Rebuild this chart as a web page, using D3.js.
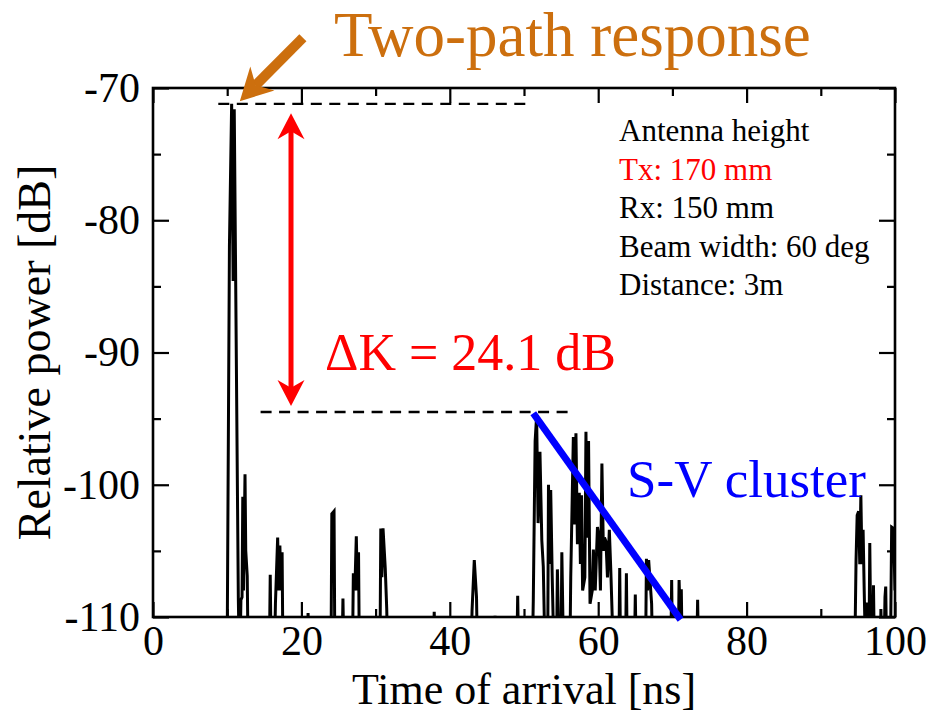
<!DOCTYPE html>
<html><head><meta charset="utf-8">
<script src="https://cdn.jsdelivr.net/npm/d3@7"></script>
<style>
html,body{margin:0;padding:0;background:#fff;}
svg{display:block;font-family:"Liberation Serif","Times New Roman",serif;}
</style></head>
<body>
<svg id="chart" width="930" height="719"></svg>
<script>
// ---- data ----
const xDomain = [0, 100];
const yDomain = [-110, -70];
const xMajorTicks = [0, 20, 40, 60, 80, 100];
const xMinorTicks = [10, 30, 50, 70, 90];
const yMajorTicks = [-110, -100, -90, -80, -70];
const yMinorTicks = [-105, -95, -85, -75];

const timeNs = [0,9.9,10.0,10.3,10.6,10.8,10.95,11.5,11.6,11.75,11.85,12.0,12.1,12.2,12.4,12.5,12.7,12.8,
 15.7,15.8,15.9,16.4,16.5,16.8,16.95,17.1,17.25,17.4,17.5,20.8,20.9,21.0,24.0,24.1,24.4,24.5,25.5,25.6,25.7,
 26.9,27.0,27.2,27.4,27.55,27.7,27.8,30.6,30.7,30.85,31.0,31.3,31.5,31.6,37.8,37.9,38.0,42.9,43.0,43.3,43.6,43.7,
 46.0,46.1,46.2,49.05,49.15,49.25,51.15,51.25,51.5,51.7,51.9,52.15,52.4,52.6,52.8,53.2,53.3,53.45,53.6,53.8,54.0,
 54.4,54.5,54.7,55.0,55.1,55.3,56.2,56.3,56.65,56.8,57.0,57.2,57.45,57.6,57.75,57.9,58.2,58.35,58.5,58.7,58.9,
 59.2,59.35,59.6,59.9,60.1,60.3,60.5,60.7,60.85,61.05,61.25,61.5,61.7,62.0,62.8,62.9,63.0,63.7,63.8,63.9,
 64.9,65.0,65.1,66.4,66.5,66.65,66.8,67.2,67.3,69.8,69.9,70.0,70.8,70.9,71.05,71.2,71.3,73.3,73.4,73.5,
 94.6,94.75,94.9,95.1,95.25,95.4,95.55,95.7,95.85,96.0,96.15,96.2,96.3,96.5,96.6,96.75,97.0,97.1,97.2,
 98.05,98.1,98.2,98.55,98.65,98.75,98.85,99.4,99.55,99.8,100];
const powerDb = [-112,-112,-112,-82,-71.2,-84.6,-71.6,-108.6,-112,-112,-108.7,-108.5,-100.9,-108,-99.2,-105,-106.9,-112,
 -112,-106.8,-112,-112,-109,-104.0,-108,-104.6,-108,-105.1,-112,-112,-109.7,-112,-112,-102.2,-102.0,-112,-112,-108.6,-112,
 -112,-106.7,-108,-103.9,-108,-105.1,-112,-112,-103.3,-107,-103.3,-106.3,-109.4,-112,-112,-109.6,-112,-112,-109.5,-105.7,-108.5,-112,
 -112,-109.9,-112,-112,-108.4,-112,-112,-108.8,-96.7,-94.8,-102.9,-97.5,-104.2,-106.2,-112,-112,-100.0,-106,-100.4,-106.9,-112,
 -112,-106.4,-112,-112,-105.1,-112,-112,-107,-96.4,-103,-96.1,-104.5,-100.6,-106,-100.8,-108,-107,-96.0,-104,-96.7,-109,
 -108,-104.9,-108,-103.2,-103.9,-108,-98.4,-105,-104,-104.3,-107,-103.4,-106.5,-112,-112,-106.3,-112,-112,-106.7,-112,
 -112,-108.3,-112,-112,-105.6,-108,-105.7,-109,-112,-112,-107.2,-112,-112,-107.2,-110,-107.9,-112,-112,-108.7,-112,
 -112,-105.7,-102.3,-102.0,-106,-100.8,-106,-103.4,-108,-112,-112,-108.9,-112,-112,-104.4,-112,-112,-107.6,-112,
 -112,-109.4,-112,-112,-108.5,-107.7,-112,-112,-103.2,-103.3,-108];

// annotations (data units)
const peakLevel = {x0: 8.8, x1: 50.4, y: -71.2};
const clusterLevel = {x0: 14.5, x1: 56.4, y: -94.5};
const deltaArrow = {x: 18.6, yTop: -71.9, yBottom: -94.05};
const svLine = {x0: 51.25, y0: -94.6, x1: 71.1, y1: -110.2};
const orangeArrow = {x0: 20.2, y0: -66.2, x1: 11.7, y1: -71.0};
const infoLines = ["Antenna height", "Tx: 170 mm", "Rx: 150 mm", "Beam width: 60 deg", "Distance: 3m"];
const infoColors = ["#000", "#ff0000", "#000", "#000", "#000"];

// ---- layout ----
const svg = d3.select("#chart");
const L = 153, R = 895, T = 88, B = 617;
const x = d3.scaleLinear().domain(xDomain).range([L, R]);
const y = d3.scaleLinear().domain(yDomain).range([B, T]);

svg.append("defs").append("clipPath").attr("id","clip")
  .append("rect").attr("x",L).attr("y",T).attr("width",R-L).attr("height",B-T);

// data line
const pts = timeNs.map((t,i)=>[t,powerDb[i]]);
svg.append("path").datum(pts)
  .attr("clip-path","url(#clip)")
  .attr("fill","none").attr("stroke","#000").attr("stroke-width",3)
  .attr("stroke-linejoin","miter")
  .attr("d", d3.line().x(d=>x(d[0])).y(d=>y(d[1])));

// axes
function styleAxis(g, showText){
  g.select(".domain").remove();
  g.selectAll(".tick line").attr("stroke","#000").attr("stroke-width",2.2);
  if(!showText) g.selectAll(".tick text").remove();
  else g.selectAll(".tick text").attr("font-size",42).attr("fill","#000")
        .attr("font-family","Liberation Serif, Times New Roman, serif");
}
const fmt = d => String(d);
svg.append("g").attr("transform",`translate(0,${B})`)
  .call(d3.axisBottom(x).tickValues(xMajorTicks).tickSize(-15).tickPadding(8).tickFormat(fmt))
  .call(g=>styleAxis(g,true));
svg.append("g").attr("transform",`translate(0,${B})`)
  .call(d3.axisBottom(x).tickValues(xMinorTicks).tickSize(-8)).call(g=>styleAxis(g,false));
svg.append("g").attr("transform",`translate(0,${T})`)
  .call(d3.axisTop(x).tickValues(xMajorTicks).tickSize(-15)).call(g=>styleAxis(g,false));
svg.append("g").attr("transform",`translate(0,${T})`)
  .call(d3.axisTop(x).tickValues(xMinorTicks).tickSize(-8)).call(g=>styleAxis(g,false));
svg.append("g").attr("transform",`translate(${L},0)`)
  .call(d3.axisLeft(y).tickValues(yMajorTicks).tickSize(-16).tickPadding(13).tickFormat(fmt))
  .call(g=>styleAxis(g,true));
svg.append("g").attr("transform",`translate(${L},0)`)
  .call(d3.axisLeft(y).tickValues(yMinorTicks).tickSize(-8)).call(g=>styleAxis(g,false));
svg.append("g").attr("transform",`translate(${R},0)`)
  .call(d3.axisRight(y).tickValues(yMajorTicks).tickSize(-16)).call(g=>styleAxis(g,false));
svg.append("g").attr("transform",`translate(${R},0)`)
  .call(d3.axisRight(y).tickValues(yMinorTicks).tickSize(-8)).call(g=>styleAxis(g,false));

// frame
svg.append("rect").attr("x",L).attr("y",T).attr("width",R-L).attr("height",B-T)
  .attr("fill","none").attr("stroke","#000").attr("stroke-width",2.6);

// axis titles
svg.append("text").attr("x",(L+R)/2).attr("y",704).attr("text-anchor","middle")
  .attr("font-size",44).text("Time of arrival [ns]");
svg.append("text").attr("transform",`translate(50,${(T+B)/2}) rotate(-90)`)
  .attr("text-anchor","middle").attr("font-size",46).text("Relative power [dB]");

// dashed reference levels
[peakLevel, clusterLevel].forEach(d=>{
  svg.append("line").attr("x1",x(d.x0)).attr("x2",x(d.x1)).attr("y1",y(d.y)).attr("y2",y(d.y))
    .attr("stroke","#000").attr("stroke-width",2.4).attr("stroke-dasharray","11,7.5");
});

// arrowhead helper: tip at (tx,ty), pointing along angle a
function arrowHead(tx,ty,a,len,wid,color){
  const ux=Math.cos(a), uy=Math.sin(a), px=-uy, py=ux;
  const bx=tx-ux*len, by=ty-uy*len;
  const nx=tx-ux*len*0.7, ny=ty-uy*len*0.7;
  const p=[[tx,ty],[bx+px*wid/2,by+py*wid/2],[nx,ny],[bx-px*wid/2,by-py*wid/2]];
  svg.append("path").attr("d","M"+p.map(q=>q.join(",")).join("L")+"Z").attr("fill",color);
}

// red double arrow
{
  const ax=x(deltaArrow.x), y1=y(deltaArrow.yTop), y2=y(deltaArrow.yBottom);
  svg.append("line").attr("x1",ax).attr("x2",ax).attr("y1",y1+15).attr("y2",y2-15)
    .attr("stroke","#ff0000").attr("stroke-width",5);
  arrowHead(ax,y1,-Math.PI/2,26,27,"#ff0000");
  arrowHead(ax,y2,Math.PI/2,26,27,"#ff0000");
}
svg.append("text").attr("x",325).attr("y",370).attr("font-size",52).attr("fill","#ff0000")
  .text("\u0394K = 24.1 dB");

// orange arrow + label
{
  const sx=x(orangeArrow.x0), sy=y(orangeArrow.y0), tx=x(orangeArrow.x1), ty=y(orangeArrow.y1);
  const a=Math.atan2(ty-sy,tx-sx);
  svg.append("line").attr("x1",sx).attr("y1",sy).attr("x2",tx-Math.cos(a)*22).attr("y2",ty-Math.sin(a)*22)
    .attr("stroke","#cc6f0e").attr("stroke-width",10);
  arrowHead(tx,ty,a,32,34,"#cc6f0e");
}
svg.append("text").attr("x",334).attr("y",56).attr("font-size",63).attr("fill","#cc6f0e")
  .text("Two-path response");

// blue S-V line
svg.append("line").attr("x1",x(svLine.x0)).attr("y1",y(svLine.y0)).attr("x2",x(svLine.x1)).attr("y2",y(svLine.y1))
  .attr("stroke","#0000ff").attr("stroke-width",7);
svg.append("text").attr("x",627).attr("y",497).attr("font-size",53).attr("fill","#0000ff")
  .text("S-V cluster");

// info text
svg.append("g").selectAll("text").data(infoLines).join("text")
  .attr("x",619).attr("y",(d,i)=>141+i*38.5).attr("font-size",31)
  .attr("fill",(d,i)=>infoColors[i]).text(d=>d);
</script>
</body></html>
